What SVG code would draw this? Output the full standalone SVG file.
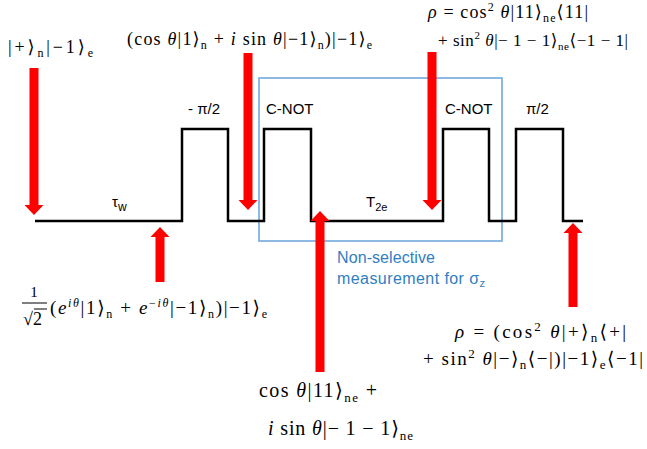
<svg xmlns="http://www.w3.org/2000/svg" width="647" height="449" viewBox="0 0 647 449">
<style>
.m{font-family:"Liberation Serif","DejaVu Serif",serif;fill:#000}
.i{font-style:italic}
.lab{font-family:"Liberation Sans","DejaVu Sans",sans-serif;font-size:15px;fill:#000}
.blue{font-family:"Liberation Sans","DejaVu Sans",sans-serif;font-size:16px;fill:#2F7EC2}
.arrow{fill:#FF0000}
.wave{fill:none;stroke:#000;stroke-width:2.5;stroke-linejoin:miter}
</style>
<rect width="647" height="449" fill="#fff"/>
<g id="measurement-box">
<rect x="259" y="78" width="243" height="163" fill="none" stroke="#80B3E0" stroke-width="1.8"/>
<text class="blue" x="337" y="263" textLength="98" lengthAdjust="spacing">Non-selective</text>
<text class="blue" x="337" y="284" textLength="148" lengthAdjust="spacing">measurement for σ<tspan font-size="11" dy="3">z</tspan></text>
</g>
<g id="pulse-sequence">
<path class="wave" d="M35,221 H182 V129 H228 V221 H264 V129 H311 V221 H443 V129 H489 V221 H516 V129 H563 V221 H583"/>
<text class="lab" x="188" y="114">- π/2</text>
<text class="lab" x="266" y="114">C-NOT</text>
<text class="lab" x="445" y="114">C-NOT</text>
<text class="lab" x="526" y="114">π/2</text>
<text class="lab" x="112" y="207" font-size="18">τ<tspan font-size="12" dy="4">w</tspan></text>
<text class="lab" x="366" y="207" font-size="16">T<tspan font-size="11" dy="4">2e</tspan></text>
</g>
<g id="connectors">
<polygon class="arrow" points="29.5,68 38.5,68 38.5,205 43.5,205 34,215 24.5,205 29.5,205"/>
<polygon class="arrow" points="243.5,53 252.5,53 252.5,200 257.5,200 248,210 238.5,200 243.5,200"/>
<polygon class="arrow" points="427.5,52 436.5,52 436.5,200 441.5,200 432,210 422.5,200 427.5,200"/>
<polygon class="arrow" points="155.5,282 164.5,282 164.5,237 169.5,237 160,227 150.5,237 155.5,237"/>
<polygon class="arrow" points="315.5,372 324.5,372 324.5,221 329.5,221 320,211 310.5,221 315.5,221"/>
<polygon class="arrow" points="568.5,307 577.5,307 577.5,233 582.5,233 573,223 563.5,233 568.5,233"/>
</g>
<g id="state-initial">
<text class="m" x="8" y="53" font-size="18" textLength="85" lengthAdjust="spacing">|+⟩<tspan font-size="12" dy="4">n</tspan><tspan dy="-4">|−1⟩</tspan><tspan font-size="12" dy="4">e</tspan></text>
</g>
<g id="state-after-pulse">
<text class="m" x="127" y="45" font-size="18" textLength="245" lengthAdjust="spacing">(cos <tspan class="i">θ</tspan>|1⟩<tspan font-size="12" dy="4">n</tspan><tspan dy="-4"> + </tspan><tspan class="i">i</tspan> sin <tspan class="i">θ</tspan>|−1⟩<tspan font-size="12" dy="4">n</tspan><tspan dy="-4">)|−1⟩</tspan><tspan font-size="12" dy="4">e</tspan></text>
</g>
<g id="state-rho-ne">
<text class="m" x="428" y="18" font-size="18" textLength="160" lengthAdjust="spacing"><tspan class="i">ρ</tspan> = cos<tspan font-size="12" dy="-7">2</tspan><tspan dy="7"> </tspan><tspan class="i">θ</tspan>|11⟩<tspan font-size="12" dy="4">ne</tspan><tspan dy="-4">⟨11|</tspan></text>
<text class="m" x="438" y="46" font-size="17" textLength="190" lengthAdjust="spacing">+ sin<tspan font-size="11" dy="-7">2</tspan><tspan dy="7"> </tspan><tspan class="i">θ</tspan>|− 1 − 1⟩<tspan font-size="11" dy="4">ne</tspan><tspan dy="-4">⟨−1 − 1|</tspan></text>
</g>
<g id="state-superposition">
<text class="m" x="34" y="297" font-size="15" text-anchor="middle">1</text>
<line x1="22" y1="303" x2="47" y2="303" stroke="#000" stroke-width="1"/>
<text class="m" x="23" y="325" font-size="18">√2</text>
<line x1="34" y1="309" x2="47" y2="309" stroke="#000" stroke-width="1"/>
<text class="m" x="50" y="314" font-size="19" textLength="217" lengthAdjust="spacing">(<tspan class="i">e</tspan><tspan class="i" font-size="12" dy="-7">iθ</tspan><tspan dy="7">|1⟩</tspan><tspan font-size="12" dy="4">n</tspan><tspan dy="-4"> + </tspan><tspan class="i">e</tspan><tspan font-size="12" dy="-7">−<tspan class="i">iθ</tspan></tspan><tspan dy="7">|−1⟩</tspan><tspan font-size="12" dy="4">n</tspan><tspan dy="-4">)|−1⟩</tspan><tspan font-size="12" dy="4">e</tspan></text>
</g>
<g id="state-final">
<text class="m" x="455" y="338" font-size="19" textLength="171" lengthAdjust="spacing"><tspan class="i">ρ</tspan> = (cos<tspan font-size="13" dy="-7">2</tspan><tspan dy="7"> </tspan><tspan class="i">θ</tspan>|+⟩<tspan font-size="13" dy="4">n</tspan><tspan dy="-4">⟨+|</tspan></text>
<text class="m" x="423" y="365" font-size="19" textLength="220" lengthAdjust="spacing">+ sin<tspan font-size="13" dy="-7">2</tspan><tspan dy="7"> </tspan><tspan class="i">θ</tspan>|−⟩<tspan font-size="13" dy="4">n</tspan><tspan dy="-4">⟨−|)|−1⟩</tspan><tspan font-size="13" dy="4">e</tspan><tspan dy="-4">⟨−1|</tspan></text>
</g>
<g id="state-entangled">
<text class="m" x="259" y="397" font-size="20" textLength="118" lengthAdjust="spacing">cos <tspan class="i">θ</tspan>|11⟩<tspan font-size="13" dy="5">ne</tspan><tspan dy="-5"> +</tspan></text>
<text class="m" x="268" y="435" font-size="20" textLength="145" lengthAdjust="spacing"><tspan class="i">i</tspan> sin <tspan class="i">θ</tspan>|− 1 − 1⟩<tspan font-size="13" dy="5">ne</tspan></text>
</g>
</svg>
